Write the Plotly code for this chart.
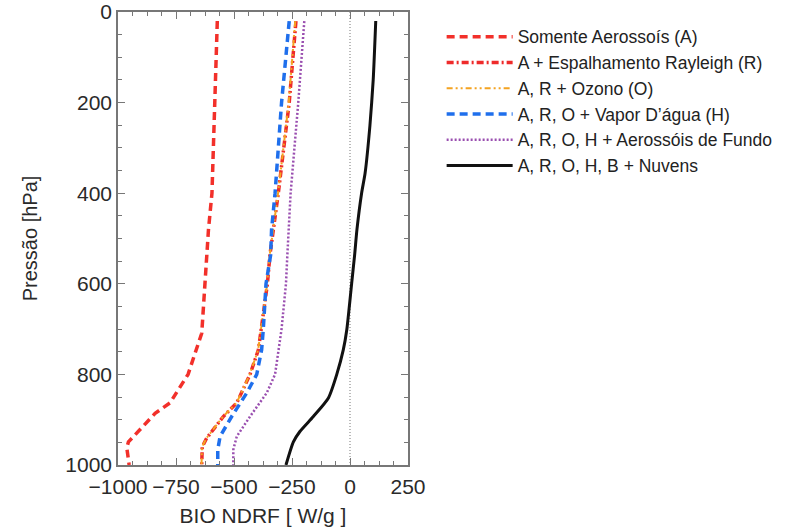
import plotly.graph_objects as go

# Pressure levels (hPa) and BIO NDRF values (W/g)
p_A = [20, 200, 400, 480, 536, 600, 709, 800, 863, 886, 927, 949, 962, 1000]
v_A = [-572, -582, -595, -610, -618, -626, -639, -698, -776, -840, -914, -955, -962, -952]

p_R = [20, 200, 400, 480, 536, 600, 702, 746, 800, 863, 893, 941, 960, 1000]
v_R = [-233, -262, -309, -330, -345, -356, -381, -395, -431, -488, -546, -618, -637, -639]

p_O = [20, 200, 400, 480, 536, 600, 702, 746, 800, 863, 893, 941, 960, 1000]
v_O = [-236, -264, -310, -331, -346, -357, -382, -396, -432, -489, -547, -619, -638, -640]

p_H = [20, 200, 400, 480, 536, 600, 702, 746, 800, 841, 893, 937, 966, 1000]
v_H = [-262, -295, -323, -338, -342, -362, -374, -381, -402, -445, -510, -560, -570, -570]

p_B = [20, 200, 400, 480, 536, 600, 700, 800, 841, 893, 937, 966, 1000]
v_B = [-197, -223, -256, -266, -270, -276, -295, -323, -359, -431, -488, -503, -503]

p_C = [20, 150, 250, 356, 400, 480, 536, 600, 702, 746, 800, 852, 893, 926, 949, 1000]
v_C = [111, 100, 86, 65, 50, 30, 20, 7, -14, -29, -57, -93, -158, -216, -244, -276]

names = [
    "Somente Aerossoís (A)",
    "A + Espalhamento Rayleigh (R)",
    "A, R + Ozono (O)",
    "A, R, O + Vapor D’água (H)",
    "A, R, O, H + Aerossóis de Fundo",
    "A, R, O, H, B + Nuvens",
]

x_ticks = [-1000, -750, -500, -250, 0, 250]
y_ticks = [0, 200, 400, 600, 800, 1000]

series = [
    (v_A, p_A, names[0], dict(color="#f2302a", width=3.5, dash="8px,5px")),
    (v_R, p_R, names[1], dict(color="#ee2b2b", width=3.5, dash="7px,3px,2px,3px")),
    (v_O, p_O, names[2], dict(color="#f4a321", width=2, dash="6px,3px,2px,3px,2px,3px")),
    (v_H, p_H, names[3], dict(color="#1f6fec", width=3.5, dash="8px,5px")),
    (v_B, p_B, names[4], dict(color="#9a4fb0", width=2.5, dash="2px,2px")),
    (v_C, p_C, names[5], dict(color="#111111", width=3, shape="spline", smoothing=0.6)),
]

fig = go.Figure()
# zero reference line (data coordinates)
fig.add_shape(type="line", xref="x", yref="y", x0=0, x1=0, y0=0, y1=1000,
              line=dict(color="#777777", width=1, dash="1px,2px"), layer="below")

for x, y, n, ln in series:
    fig.add_trace(go.Scatter(x=x, y=y, mode="lines", name=n, line=ln))

font = "Liberation Sans, Arial, Helvetica, sans-serif"
axis_common = dict(
    showgrid=False, zeroline=False, showline=True, linecolor="#777777", linewidth=1.5,
    mirror="allticks", ticks="inside", ticklen=7, tickcolor="#777777", tickwidth=1,
    tickfont=dict(family=font, size=21, color="#2a2a2a"), automargin=False,
)

fig.update_layout(
    width=792, height=532,
    margin=dict(l=118, r=384, t=12, b=67, autoexpand=False),
    paper_bgcolor="white", plot_bgcolor="white",
    font=dict(family=font, color="#2a2a2a"),
    xaxis=dict(range=[-1000, 250], tickvals=x_ticks, ticklabelstandoff=2,
               minor=dict(dtick=62.5, tick0=0, ticks="inside", ticklen=4, tickcolor="#777777"),
               title=dict(text="BIO NDRF [ W/g ]", font=dict(family=font, size=21, color="#2a2a2a"), standoff=11),
               **axis_common),
    yaxis=dict(range=[1000, 0], tickvals=y_ticks,
               minor=dict(dtick=50, tick0=0, ticks="inside", ticklen=4, tickcolor="#777777"),
               title=dict(text="Pressão [hPa]", font=dict(family=font, size=20, color="#2a2a2a"), standoff=22),
               **axis_common),
    legend=dict(x=1.116, y=0.985, xanchor="left", yanchor="top",
                font=dict(family=font, size=17.5, color="#222222"),
                itemwidth=66, tracegroupgap=0, bgcolor="rgba(0,0,0,0)"),
    showlegend=True,
)

fig.write_html("out.html", config={"displayModeBar": False},
               post_script="document.body.style.margin='0';")
